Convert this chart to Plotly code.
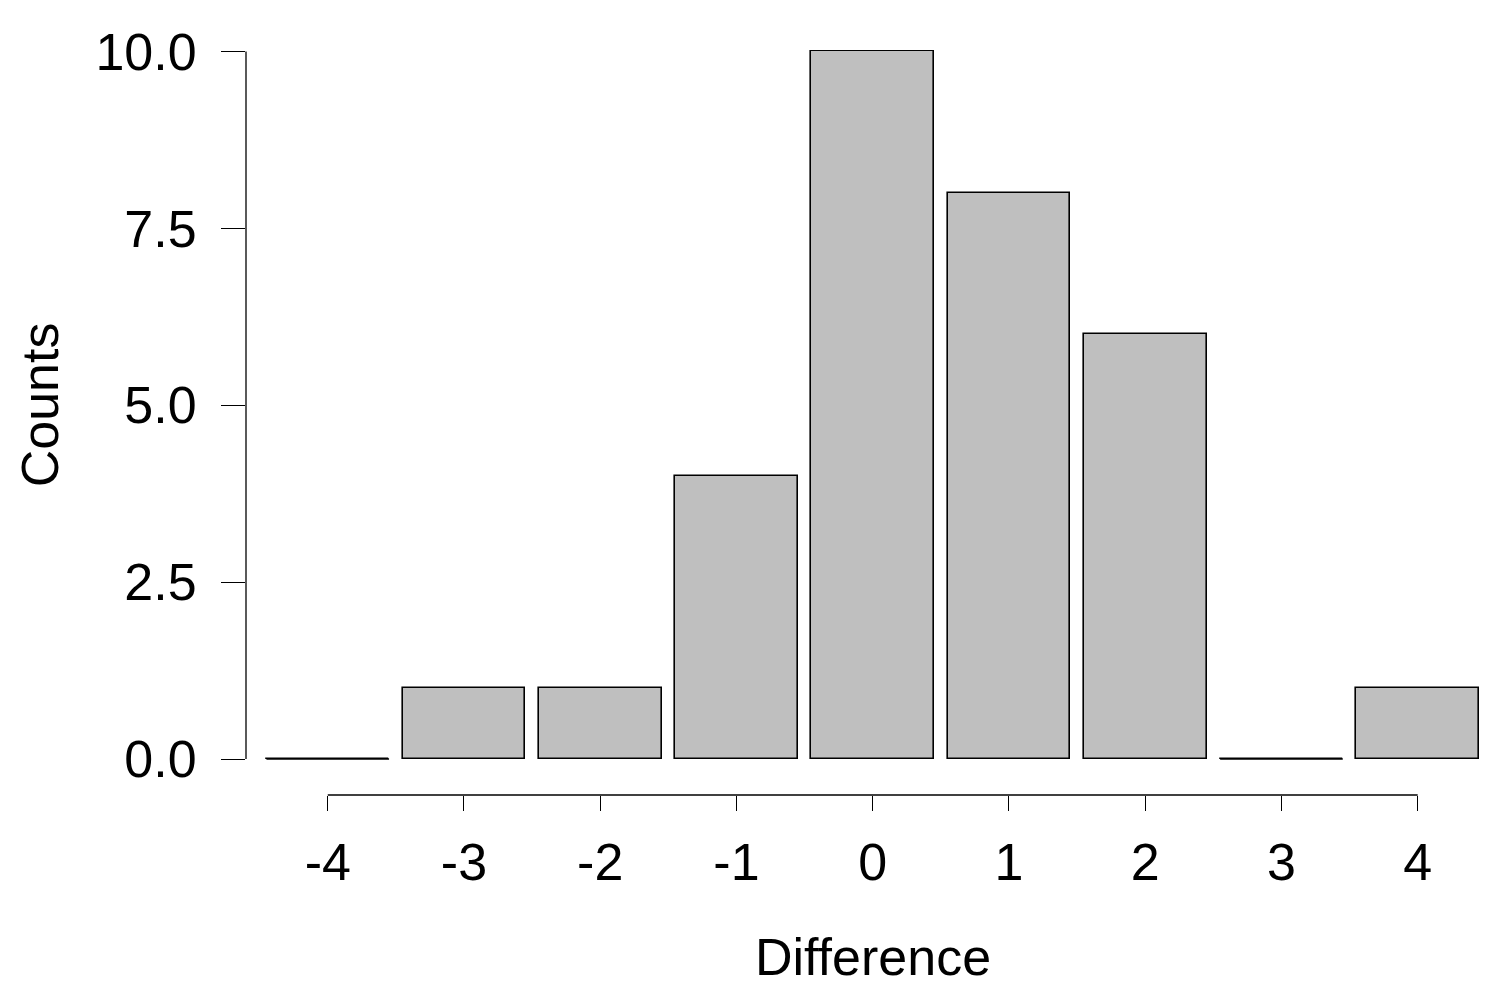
import plotly.graph_objects as go

# histogram of differences (bins centred on integers)
differences = [-4, -3, -2, -1, 0, 1, 2, 3, 4]
counts = [0, 1, 1, 4, 10, 8, 6, 0, 1]
y_ticks = [0, 2.5, 5, 7.5, 10]
y_tick_labels = ["0.0", "2.5", "5.0", "7.5", "10.0"]

bar_width = 0.9
font_family = "Liberation Sans, Arial, sans-serif"

fig = go.Figure()
fig.add_trace(go.Bar(
    x=differences, y=counts, width=bar_width,
    marker=dict(color="#BFBFBF", line=dict(color="black", width=1.6)),
))

# zero-height bins are drawn as flat outlines
zx, zy = [], []
for d, c in zip(differences, counts):
    if c == 0:
        zx += [d - bar_width / 2, d + bar_width / 2, None]
        zy += [c, c, None]
fig.add_trace(go.Scatter(x=zx, y=zy, mode="lines", line=dict(color="black", width=1.6),
                         hoverinfo="skip"))

# detached R-style axis lines
fig.add_shape(type="line", xref="paper", yref="y", x0=0, x1=0, y0=min(y_ticks), y1=max(y_ticks),
              line=dict(color="black", width=1.3))
fig.add_shape(type="line", xref="x", yref="paper", x0=min(differences), x1=max(differences), y0=0, y1=0,
              line=dict(color="black", width=1.3))

fig.update_xaxes(range=[-4.60, 4.45], tickvals=differences, ticktext=[str(d) for d in differences],
                 ticks="outside", ticklen=15, tickwidth=1.3, tickcolor="black",
                 showline=False, showgrid=False, zeroline=False, ticklabelstandoff=7,
                 tickfont=dict(size=52, color="black", family=font_family))
fig.update_yaxes(range=[-0.508, 10.02], tickvals=y_ticks, ticktext=y_tick_labels,
                 ticks="outside", ticklen=24, tickwidth=1.3, tickcolor="black",
                 showline=False, showgrid=False, zeroline=False, ticklabelstandoff=14,
                 tickfont=dict(size=52, color="black", family=font_family))

fig.add_annotation(text="Counts", xref="paper", yref="y", x=-0.167, y=5, textangle=-90,
                   xanchor="center", yanchor="middle",
                   showarrow=False, font=dict(size=52, color="black", family=font_family))
fig.add_annotation(text="Difference", xref="x", yref="paper", x=0, y=-0.2174,
                   xanchor="center", yanchor="middle",
                   showarrow=False, font=dict(size=52, color="black", family=font_family))

fig.update_layout(width=1500, height=1000, showlegend=False, bargap=0,
                  margin=dict(l=238, r=29, t=42, b=213, autoexpand=False),
                  plot_bgcolor="white", paper_bgcolor="white",
                  font=dict(family=font_family))
fig.write_html("out.html")
